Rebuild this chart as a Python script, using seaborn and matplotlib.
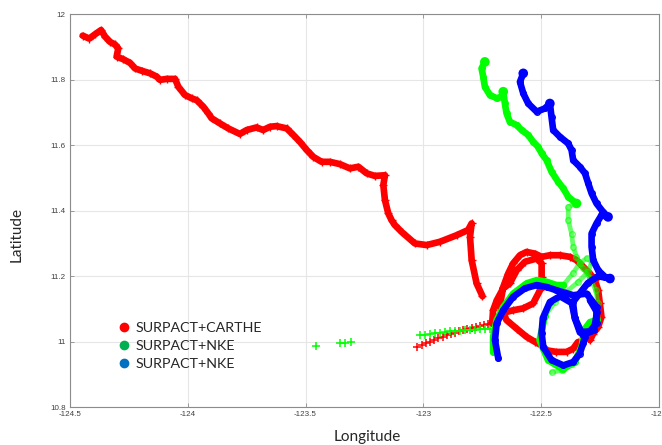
import matplotlib
matplotlib.use('Agg')
import matplotlib.pyplot as plt
from matplotlib.lines import Line2D
from matplotlib.ticker import FuncFormatter
import seaborn as sns
import pandas as pd

# drifter tracks (lon, lat)
red1_lon = [-124.446, -124.418, -124.394, -124.368, -124.351, -124.330, -124.309, -124.295, -124.302, -124.274,
            -124.245, -124.224, -124.196, -124.160, -124.132, -124.118, -124.090, -124.054, -124.040, -124.012,
            -123.984, -123.962, -123.934, -123.913, -123.899, -123.863, -123.828, -123.779, -123.750, -123.708,
            -123.680, -123.651, -123.623, -123.580, -123.552, -123.524, -123.495, -123.467, -123.432, -123.397,
            -123.354, -123.312, -123.276, -123.241, -123.206, -123.163, -123.170, -123.163, -123.149, -123.135,
            -123.121, -123.092, -123.036, -122.986, -122.930, -122.859, -122.810, -122.795, -122.802, -122.795,
            -122.774, -122.749]
red1_lat = [11.934, 11.925, 11.938, 11.951, 11.931, 11.915, 11.907, 11.895, 11.870, 11.862,
            11.851, 11.834, 11.827, 11.819, 11.809, 11.799, 11.802, 11.802, 11.778, 11.753,
            11.743, 11.737, 11.717, 11.697, 11.682, 11.666, 11.651, 11.634, 11.646, 11.654,
            11.646, 11.656, 11.658, 11.651, 11.631, 11.610, 11.585, 11.564, 11.549, 11.549,
            11.542, 11.529, 11.534, 11.514, 11.506, 11.508, 11.478, 11.432, 11.392, 11.371,
            11.356, 11.335, 11.300, 11.295, 11.305, 11.325, 11.341, 11.361, 11.320, 11.249,
            11.178, 11.139]

red_tail_lon = [-123.026, -123.007, -122.989, -122.972, -122.955, -122.937, -122.918, -122.901, -122.884, -122.866,
                -122.848, -122.831, -122.814, -122.795, -122.777, -122.760, -122.743, -122.725, -122.708]
red_tail_lat = [10.984, 10.989, 10.995, 11.000, 11.005, 11.010, 11.015, 11.020, 11.025, 11.028,
                11.032, 11.035, 11.038, 11.042, 11.045, 11.048, 11.051, 11.054, 11.056]

red2_lon = [-122.708, -122.704, -122.688, -122.661, -122.633, -122.604, -122.569, -122.519, -122.498, -122.498,
            -122.505, -122.534, -122.576, -122.619, -122.647, -122.675, -122.661, -122.640, -122.619, -122.590,
            -122.562, -122.527, -122.498, -122.463, -122.420, -122.378, -122.350, -122.322, -122.293, -122.272,
            -122.258, -122.251, -122.244, -122.258, -122.279, -122.293]
red2_lat = [11.056, 11.096, 11.127, 11.163, 11.178, 11.218, 11.244, 11.254, 11.239, 11.198,
            11.157, 11.117, 11.102, 11.096, 11.091, 11.112, 11.167, 11.208, 11.239, 11.264,
            11.274, 11.269, 11.259, 11.264, 11.264, 11.259, 11.249, 11.229, 11.208, 11.188,
            11.157, 11.117, 11.076, 11.045, 11.025, 11.005]

red3_lon = [-122.675, -122.647, -122.604, -122.562, -122.527, -122.498, -122.477, -122.435, -122.392, -122.364, -122.344]
red3_lat = [11.106, 11.066, 11.040, 11.015, 11.000, 10.989, 10.974, 10.969, 10.969, 10.979, 10.999]

green_plus_lon = [-123.457, -123.354, -123.333, -123.309, -123.015, -122.993, -122.972, -122.951, -122.930, -122.909,
                  -122.887, -122.866, -122.845, -122.824, -122.802, -122.781, -122.760, -122.739, -122.718]
green_plus_lat = [10.987, 10.995, 10.997, 10.998, 11.020, 11.022, 11.024, 11.026, 11.028, 11.030,
                  11.032, 11.033, 11.034, 11.035, 11.036, 11.037, 11.038, 11.039, 11.040]

green1_lon = [-122.739, -122.753, -122.746, -122.739, -122.718, -122.689, -122.668, -122.661, -122.654, -122.647,
              -122.633, -122.604, -122.583, -122.555, -122.534, -122.513, -122.498, -122.477, -122.456, -122.428,
              -122.406, -122.385, -122.350]
green1_lat = [11.854, 11.834, 11.809, 11.778, 11.753, 11.743, 11.748, 11.763, 11.727, 11.697,
              11.671, 11.661, 11.646, 11.631, 11.610, 11.595, 11.575, 11.554, 11.519, 11.488,
              11.468, 11.442, 11.422]
green1b_lon = [-122.350, -122.385, -122.385, -122.371, -122.364, -122.350, -122.323, -122.293, -122.268, -122.259,
               -122.263, -122.285, -122.314, -122.336, -122.370, -122.412, -122.456]
green1b_lat = [11.422, 11.412, 11.371, 11.330, 11.290, 11.259, 11.225, 11.194, 11.157, 11.118,
               11.072, 11.041, 11.029, 10.974, 10.931, 10.913, 10.907]

green2_lon = [-122.704, -122.704, -122.689, -122.661, -122.619, -122.562, -122.519, -122.477, -122.435, -122.406]
green2_lat = [10.968, 11.015, 11.066, 11.106, 11.147, 11.178, 11.188, 11.183, 11.173, 11.173]
green2b_lon = [-122.406, -122.365, -122.336, -122.306, -122.285, -122.302, -122.344, -122.395, -122.442, -122.484]
green2b_lat = [11.173, 11.209, 11.240, 11.255, 11.243, 11.212, 11.182, 11.151, 11.121, 11.078]
green2c_lon = [-122.484, -122.507, -122.471, -122.408, -122.357, -122.327, -122.319, -122.293, -122.263]
green2c_lat = [11.078, 11.005, 10.944, 10.916, 10.938, 10.989, 11.035, 11.060, 11.066]

blue1_lon = [-122.576, -122.590, -122.576, -122.555, -122.519, -122.484, -122.463, -122.456, -122.449, -122.420,
             -122.385, -122.371, -122.364, -122.336, -122.314, -122.300, -122.286, -122.265, -122.237, -122.216,
             -122.244, -122.265, -122.286, -122.286, -122.279, -122.258, -122.229, -122.208, -122.259, -122.302,
             -122.336, -122.365, -122.357, -122.323, -122.276, -122.263, -122.293]
blue1_lat = [11.819, 11.793, 11.758, 11.727, 11.702, 11.712, 11.727, 11.686, 11.646, 11.625,
             11.605, 11.585, 11.554, 11.534, 11.514, 11.483, 11.453, 11.422, 11.396, 11.381,
             11.386, 11.361, 11.330, 11.290, 11.249, 11.218, 11.198, 11.193, 11.200, 11.179,
             11.148, 11.121, 11.072, 11.020, 11.035, 11.090, 11.127]

blue2_lon = [-122.682, -122.696, -122.689, -122.661, -122.619, -122.569, -122.519, -122.477, -122.435, -122.364,
             -122.307, -122.265, -122.265, -122.293, -122.336, -122.357, -122.370, -122.420, -122.463, -122.493,
             -122.498, -122.491, -122.456, -122.406, -122.364, -122.336, -122.322, -122.314]
blue2_lat = [10.949, 11.005, 11.056, 11.096, 11.137, 11.163, 11.173, 11.167, 11.157, 11.142,
             11.147, 11.106, 11.056, 11.032, 11.029, 11.072, 11.118, 11.139, 11.121, 11.072,
             11.026, 10.984, 10.944, 10.928, 10.938, 10.964, 10.995, 11.014]

# spots where drifters lingered (thicker blobs)
blob_lon = [-122.739, -122.661, -122.350, -122.576, -122.463, -122.216, -122.208]
blob_lat = [11.854, 11.763, 11.422, 11.819, 11.727, 11.381, 11.193]
blob_col = ['green', 'green', 'green', 'blue', 'blue', 'blue', 'blue']

legend_labels = ['SURPACT+CARTHE', 'SURPACT+NKE', 'SURPACT+NKE']
legend_colors = ['#ff0000', '#00b050', '#0070c0']

RED, GREEN, BLUE = '#ff0000', '#00ff00', '#0000ff'

sns.set_style("ticks")
plt.rcParams['axes.unicode_minus'] = False

fig = plt.figure(figsize=(6.62, 4.45), dpi=100)
ax = fig.add_axes([0.1057, 0.0847, 0.8897, 0.8838])


def track(lon, lat, color, lw=4.8, marker='+', ms=5.5, alpha=1.0):
  sns.lineplot(x=lon, y=lat, sort=False, estimator=None, color=color, linewidth=lw,
               marker=marker, markersize=ms, markeredgecolor=color,
               markerfacecolor='none', markeredgewidth=1, alpha=alpha, ax=ax)


# red drifters
track(red1_lon, red1_lat, RED)
sns.scatterplot(x=red_tail_lon, y=red_tail_lat, color=RED, marker='+', s=36, linewidth=1.1, ax=ax)
track(red2_lon, red2_lat, RED)
track(red3_lon, red3_lat, RED)

# green drifters
sns.scatterplot(x=green_plus_lon, y=green_plus_lat, color=GREEN, marker='+', s=36, linewidth=1.1, ax=ax)
track(green1_lon, green1_lat, GREEN, marker='o', ms=4)
track(green1b_lon, green1b_lat, GREEN, lw=3.4, marker='o', ms=4, alpha=0.6)
track(green2_lon, green2_lat, GREEN, marker='o', ms=4)
track(green2b_lon, green2b_lat, GREEN, lw=3.4, marker='o', ms=4, alpha=0.6)
track(green2c_lon, green2c_lat, GREEN, marker='o', ms=4)

# blue drifters
track(blue1_lon, blue1_lat, BLUE, marker='o', ms=4)
track(blue2_lon, blue2_lat, BLUE, marker='o', ms=4)

blobs = pd.DataFrame({'lon': blob_lon, 'lat': blob_lat, 'c': blob_col})
sns.scatterplot(data=blobs, x='lon', y='lat', hue='c', palette={'green': GREEN, 'blue': BLUE},
                s=48, linewidth=0, legend=False, ax=ax)

ax.set_xlim(-124.5, -122)
ax.set_ylim(10.8, 12)
ax.set_xticks([-124.5, -124, -123.5, -123, -122.5, -122])
ax.set_yticks([10.8, 11, 11.2, 11.4, 11.6, 11.8, 12])
fmt = FuncFormatter(lambda v, p: f'{v:g}')
ax.xaxis.set_major_formatter(fmt)
ax.yaxis.set_major_formatter(fmt)
ax.set_xlabel('')
ax.set_ylabel('')
ax.grid(True, color='#e6e6e6', linewidth=0.8)
ax.set_axisbelow(True)
for s in ax.spines.values():
  s.set_visible(True)
  s.set_color('#8c8c8c')
  s.set_linewidth(0.8)
ax.tick_params(direction='in', length=3, width=0.6, color='#8c8c8c', top=True, right=True,
               labelsize=5.8, labelcolor='#404040', pad=3)
for lab in ax.get_xticklabels() + ax.get_yticklabels():
  lab.set_family('Liberation Sans')

fig.text(17 / 662, 1 - 235 / 445, 'Latitude', rotation=90, ha='center', va='center',
         family='Lato', fontsize=11)
fig.text(367 / 662, 1 - 437 / 445, 'Longitude', ha='center', va='center',
         family='Lato', fontsize=11)

handles = [Line2D([], [], linestyle='none', marker='o', markersize=6, color=c) for c in legend_colors]
fig.legend(handles, legend_labels, loc='center left', bbox_to_anchor=(118.5 / 662, 1 - 346 / 445),
           frameon=False, handlelength=0.8, handletextpad=0.4, labelspacing=0.42,
           borderpad=0, borderaxespad=0, prop={'family': 'Lato', 'size': 10.3})

plt.savefig('out.png', dpi=100)
